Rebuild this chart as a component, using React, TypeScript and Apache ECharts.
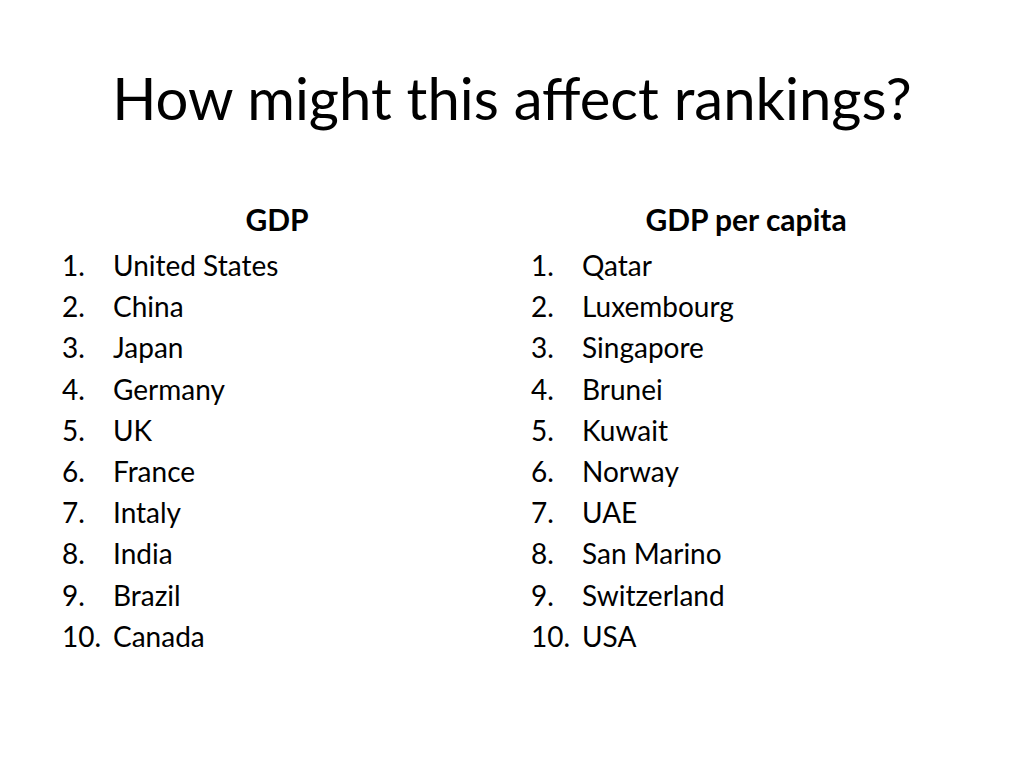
import React, { useEffect, useRef } from "react";
import * as echarts from "echarts";

const title = "How might this affect rankings?";
const leftHeader = "GDP";
const rightHeader = "GDP per capita";
const gdpRanking = ["United States", "China", "Japan", "Germany", "UK", "France", "Intaly", "India", "Brazil", "Canada"];
const gdpPerCapitaRanking = ["Qatar", "Luxembourg", "Singapore", "Brunei", "Kuwait", "Norway", "UAE", "San Marino", "Switzerland", "USA"];

const FONT = "Lato, 'Open Sans', sans-serif";

export default function App() {
  const ref = useRef<HTMLDivElement>(null);
  useEffect(() => {
    const chart = echarts.init(ref.current!, null, { renderer: "svg" });
    const elements: any[] = [];
    elements.push({
      type: "text", x: 512, y: 97,
      style: { text: title, font: `58px ${FONT}`, fill: "#000", align: "center", verticalAlign: "middle" },
    });
    elements.push({
      type: "text", x: 277, y: 219,
      style: { text: leftHeader, font: `bold 30px ${FONT}`, fill: "#000", align: "center", verticalAlign: "middle" },
    });
    elements.push({
      type: "text", x: 746, y: 219,
      style: { text: rightHeader, font: `bold 30px ${FONT}`, fill: "#000", align: "center", verticalAlign: "middle" },
    });
    const addList = (items: string[], numX: number, textX: number) => {
      items.forEach((name, i) => {
        const y = 265 + i * 41.2;
        elements.push({
          type: "text", x: numX, y,
          style: { text: `${i + 1}.`, font: `28px ${FONT}`, fill: "#000", align: "left", verticalAlign: "middle" },
        });
        elements.push({
          type: "text", x: textX, y,
          style: { text: name, font: `28px ${FONT}`, fill: "#000", align: "left", verticalAlign: "middle" },
        });
      });
    };
    addList(gdpRanking, 62, 113);
    addList(gdpPerCapitaRanking, 531, 582);
    chart.setOption({ animation: false, backgroundColor: "#fff", graphic: { elements } });
    return () => chart.dispose();
  }, []);
  return <div ref={ref} style={{ width: 1024, height: 768, position: "absolute", left: 0, top: 0 }} />;
}
